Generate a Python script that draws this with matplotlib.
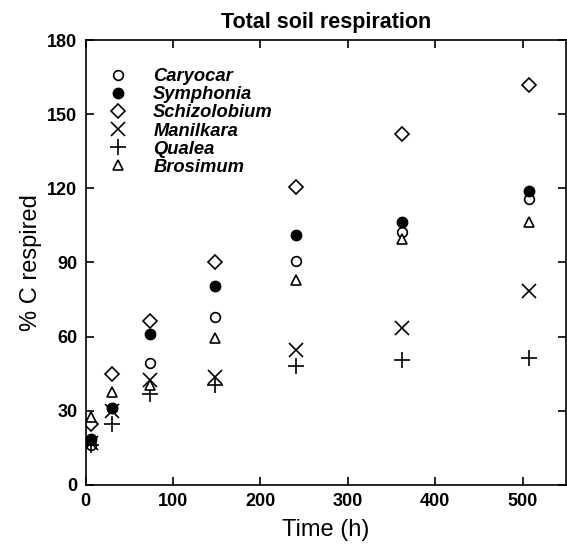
import matplotlib.pyplot as plt

plt.rcParams['font.family'] = ['Liberation Sans', 'DejaVu Sans']

time_h = [6, 30, 74, 148, 241, 362, 507]

caryocar = [16, 31, 49.5, 68, 90.5, 102.5, 115.5]
symphonia = [18.5, 31, 61, 80.5, 101, 106.5, 119]
schizolobium = [24.5, 45, 66.5, 90, 120.5, 142, 162]
manilkara = [17, 30, 42.5, 43.5, 54.5, 63.5, 78.5]
qualea = [16, 24.5, 37, 40.5, 48, 50.5, 51.5]
brosimum = [27.5, 37.5, 40.5, 59.5, 83, 99.5, 106.5]

fig = plt.figure(figsize=(5.67, 5.48), dpi=100)
ax = fig.add_axes([0.151, 0.115, 0.848, 0.812])

ax.plot(time_h, caryocar, 'o', ms=7, mfc='white', mec='black', mew=1.2, label='Caryocar')
ax.plot(time_h, symphonia, 'o', ms=7.5, mfc='black', mec='black', label='Symphonia')
ax.plot(time_h, schizolobium, 'D', ms=7, mfc='white', mec='black', mew=1.2, label='Schizolobium')
ax.plot(time_h, manilkara, 'x', ms=10, color='black', mew=1.2, label='Manilkara')
ax.plot(time_h, qualea, '+', ms=11, color='black', mew=1.2, label='Qualea')
ax.plot(time_h, brosimum, '^', ms=7.5, mfc='white', mec='black', mew=1.2, label='Brosimum')

ax.set_xlim(0, 550)
ax.set_ylim(0, 180)
ax.set_xticks([0, 100, 200, 300, 400, 500])
ax.set_yticks([0, 30, 60, 90, 120, 150, 180])
ax.tick_params(direction='in', top=True, right=True, length=6, width=1.2,
               labelsize=13, pad=6)
for lab in ax.get_xticklabels() + ax.get_yticklabels():
    lab.set_fontweight('bold')
for s in ax.spines.values():
    s.set_linewidth(1.2)

ax.set_xlabel('Time (h)', fontsize=17, labelpad=6)
ax.set_ylabel('% C respired', fontsize=17)
ax.set_title('Total soil respiration', fontsize=15.5, fontweight='bold', pad=9)

ax.legend(loc='upper left', frameon=False, prop={'style': 'italic', 'weight': 'bold', 'size': 13.2},
          labelspacing=0.06, handletextpad=1.3, borderaxespad=0.0, handlelength=1.2,
          bbox_to_anchor=(0.03, 0.953))

fig.savefig('out.png', dpi=100)
